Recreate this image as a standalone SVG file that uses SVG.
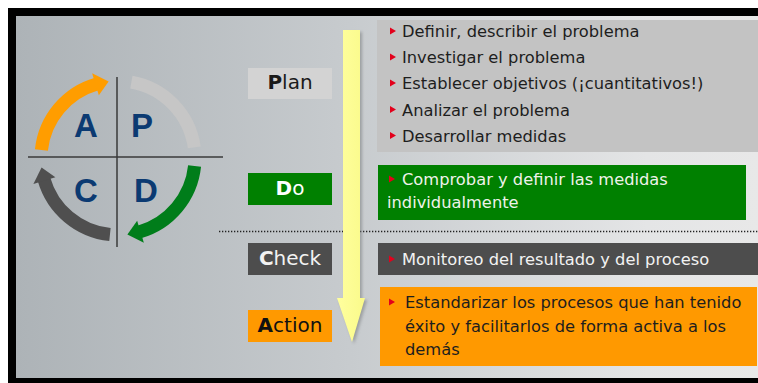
<svg xmlns="http://www.w3.org/2000/svg" width="758" height="383" viewBox="0 0 758 383">
<defs>
<linearGradient id="bg" x1="0" y1="0" x2="1" y2="0">
<stop offset="0" stop-color="#adb3b7"/>
<stop offset="0.45" stop-color="#c7cbce"/>
<stop offset="0.85" stop-color="#e4e5e6"/>
<stop offset="1" stop-color="#e8e8e8"/>
</linearGradient>
<linearGradient id="yel" x1="0" y1="0" x2="1" y2="0">
<stop offset="0" stop-color="#ffff9e"/>
<stop offset="1" stop-color="#fafa8a"/>
</linearGradient>
<filter id="sh" x="-20%" y="-10%" width="140%" height="120%">
<feGaussianBlur stdDeviation="1.5"/>
</filter>
<polygon id="bul" points="0,-7 6,-3.5 0,0" fill="#e3001b"/>
</defs>
<style>
.t{font-family:"DejaVu Sans","Liberation Sans",sans-serif;font-size:16.3px}
.lbl{font-family:"DejaVu Sans","Liberation Sans",sans-serif;font-size:20px;text-anchor:middle}
.ltr{font-family:"Liberation Sans",Arial,sans-serif;font-size:33px;font-weight:bold;fill:#0b3a72;text-anchor:middle}
.arc{fill:none;stroke-width:13}
</style>
<rect width="758" height="383" fill="#ffffff"/>
<rect x="8" y="8" width="750" height="375" fill="#000"/>
<rect x="16" y="16" width="742" height="362" fill="url(#bg)"/>

<g id="cycle">
<line x1="28" y1="157" x2="223" y2="157" stroke="#3a3a3a" stroke-width="1.5"/>
<line x1="117" y1="77" x2="117" y2="247" stroke="#3a3a3a" stroke-width="1.5"/>
<path class="arc" stroke="#c6c6c6" d="M131.37 82.17 A77 77 0 0 1 194.25 147.28"/>
<g fill="#ff9d00">
<path class="arc" stroke="#ff9d00" d="M41.42 149.95 A77 77 0 0 1 96.78 83.98"/>
<polygon points="98.85,95.36 92.12,73.37 108.61,81.58"/>
</g>
<g fill="#007d1a">
<path class="arc" stroke="#007d1a" d="M194.58 166.05 A77 77 0 0 1 139.22 232.02"/>
<polygon points="137.15,220.64 143.88,242.63 127.39,234.42"/>
</g>
<g fill="#4f4f4f">
<path class="arc" stroke="#4f4f4f" d="M109.95 234.58 A77 77 0 0 1 43.98 179.22"/>
<polygon points="55.36,177.15 33.37,183.88 41.58,167.39"/>
</g>
<text class="ltr" x="86" y="137">A</text>
<text class="ltr" x="142" y="137">P</text>
<text class="ltr" x="86" y="202">C</text>
<text class="ltr" x="146" y="202">D</text>
</g>

<g id="connectors">
<line x1="219" y1="231.5" x2="758" y2="231.5" stroke="#222" stroke-width="1.5" stroke-dasharray="1.3 1.7"/>
<path d="M345 32 H362 V300 H367 L354 344 L339 300 H345 Z" fill="#7d8082" opacity="0.6" filter="url(#sh)"/>
<path d="M343 30 H360 V298 H365 L352 342 L337 298 H343 Z" fill="url(#yel)"/>
</g>

<g id="plan">
<rect x="248" y="68" width="84" height="31" fill="#d3d3d3"/>
<text class="lbl" x="290" y="89" fill="#1a1a1a"><tspan font-weight="bold">P</tspan>lan</text>
<rect x="377" y="20" width="381" height="132" fill="#c3c3c3"/>
<g fill="#1e1e1e" class="t">
<use href="#bul" x="390" y="34.5"/><text x="402" y="37">Definir, describir el problema</text>
<use href="#bul" x="390" y="60.5"/><text x="402" y="63">Investigar el problema</text>
<use href="#bul" x="390" y="86.5"/><text x="402" y="89">Establecer objetivos (¡cuantitativos!)</text>
<use href="#bul" x="390" y="113"/><text x="402" y="115.5">Analizar el problema</text>
<use href="#bul" x="390" y="139"/><text x="402" y="141.5">Desarrollar medidas</text>
</g>
</g>

<g id="do">
<rect x="248" y="173" width="84" height="32" fill="#008000"/>
<text class="lbl" x="290" y="195" fill="#ffffff"><tspan font-weight="bold">D</tspan>o</text>
<rect x="378" y="165" width="368" height="55" fill="#008000"/>
<use href="#bul" x="389" y="182.5"/>
<text class="t" fill="#eef2ea"><tspan x="402" y="185">Comprobar y definir las medidas</tspan><tspan x="387" y="208">individualmente</tspan></text>
</g>

<g id="check">
<rect x="248" y="243" width="84" height="32" fill="#4d4d4d"/>
<text class="lbl" x="290" y="265" fill="#f2f2f2"><tspan font-weight="bold">C</tspan>heck</text>
<rect x="378" y="243" width="380" height="32" fill="#4d4d4d"/>
<use href="#bul" x="389" y="262.5"/>
<text class="t" x="402" y="265" fill="#f2f2f2">Monitoreo del resultado y del proceso</text>
</g>

<g id="action">
<rect x="248" y="310" width="84" height="32" fill="#ff9900"/>
<text class="lbl" x="290" y="332" fill="#111111"><tspan font-weight="bold">A</tspan>ction</text>
<rect x="380" y="287" width="377" height="79" fill="#ff9900"/>
<use href="#bul" x="389" y="305.5"/>
<text class="t" fill="#1e1e1e"><tspan x="405" y="308">Estandarizar los procesos que han tenido</tspan><tspan x="405" y="331.5">éxito y facilitarlos de forma activa a los</tspan><tspan x="405" y="354.5">demás</tspan></text>
</g>
</svg>
